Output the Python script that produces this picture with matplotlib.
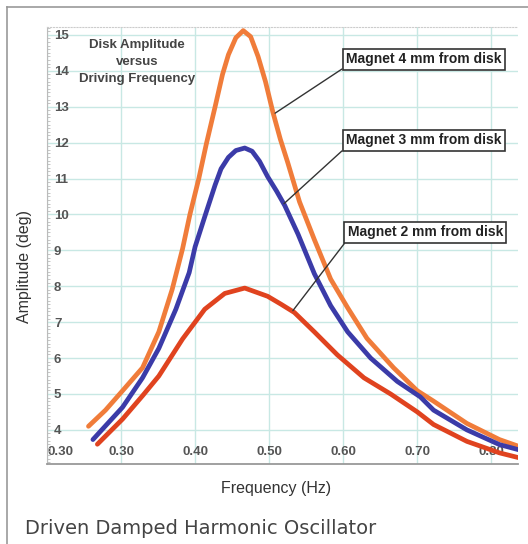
import matplotlib
matplotlib.use('Agg')
import matplotlib.pyplot as plt
from matplotlib.ticker import MultipleLocator, FixedLocator

# series (frequency in Hz, amplitude in deg)
freq_4mm = [0.256, 0.279, 0.302, 0.329, 0.351, 0.369, 0.383, 0.393, 0.405, 0.415, 0.427,
            0.437, 0.445, 0.455, 0.465, 0.475, 0.485, 0.495, 0.505, 0.515, 0.525, 0.541,
            0.561, 0.583, 0.606, 0.632, 0.668, 0.700, 0.722, 0.767, 0.811, 0.840]
amp_4mm = [4.10, 4.55, 5.09, 5.73, 6.73, 7.91, 9.04, 10.00, 11.00, 11.95, 13.00,
           13.90, 14.45, 14.92, 15.12, 14.95, 14.40, 13.70, 12.85, 12.10, 11.45, 10.35,
           9.30, 8.20, 7.40, 6.55, 5.73, 5.09, 4.80, 4.18, 3.73, 3.52]

freq_3mm = [0.262, 0.302, 0.329, 0.351, 0.374, 0.392, 0.400, 0.414, 0.427, 0.435, 0.445,
            0.455, 0.467, 0.477, 0.487, 0.498, 0.510, 0.521, 0.539, 0.561, 0.583, 0.606,
            0.637, 0.673, 0.704, 0.722, 0.767, 0.811, 0.840]
amp_3mm = [3.73, 4.63, 5.45, 6.27, 7.36, 8.38, 9.10, 10.00, 10.82, 11.27, 11.59,
           11.78, 11.85, 11.76, 11.48, 11.05, 10.65, 10.25, 9.45, 8.35, 7.46, 6.73,
           6.00, 5.35, 4.92, 4.55, 4.00, 3.59, 3.43]

freq_2mm = [0.268, 0.302, 0.329, 0.351, 0.383, 0.413, 0.440, 0.467, 0.498, 0.516, 0.534,
            0.561, 0.592, 0.628, 0.664, 0.700, 0.722, 0.767, 0.811, 0.840]
amp_2mm = [3.60, 4.30, 4.95, 5.50, 6.53, 7.36, 7.80, 7.95, 7.72, 7.50, 7.27,
           6.73, 6.09, 5.45, 5.00, 4.50, 4.15, 3.68, 3.36, 3.21]

x_ticks = [0.20, 0.30, 0.40, 0.50, 0.60, 0.70, 0.80]
x_tick_labels = ['0.30', '0.30', '0.40', '0.50', '0.60', '0.70', '0.80']
y_ticks = list(range(4, 16))

labels = ['Magnet 4 mm from disk', 'Magnet 3 mm from disk', 'Magnet 2 mm from disk']
label_tips = [(0.508, 12.82), (0.520, 10.30), (0.532, 7.32)]
label_boxes = [(0.800, 0.926), (0.800, 0.741), (0.803, 0.530)]

colors = {'4mm': '#f07c3a', '3mm': '#3b3ba8', '2mm': '#e0431f'}
grid_color = '#c8e8e4'

plt.rcParams['font.family'] = ['Liberation Sans', 'DejaVu Sans']

fig = plt.figure(figsize=(5.28, 5.44), dpi=100)
ax = fig.add_axes([47/528, 80/544, 471/528, 437/544])

ax.plot(freq_4mm, amp_4mm, color=colors['4mm'], lw=3.4, solid_capstyle='round',
        solid_joinstyle='round', zorder=3)
ax.plot(freq_3mm, amp_3mm, color=colors['3mm'], lw=3.4, solid_capstyle='round',
        solid_joinstyle='round', zorder=3)
ax.plot(freq_2mm, amp_2mm, color=colors['2mm'], lw=3.4, solid_capstyle='round',
        solid_joinstyle='round', zorder=3)

ax.set_xlim(0.2, 0.836)
ax.set_ylim(3.05, 15.22)
ax.set_axisbelow(True)

ax.xaxis.set_major_locator(FixedLocator(x_ticks))
ax.set_xticklabels(x_tick_labels)
ax.yaxis.set_major_locator(FixedLocator(y_ticks))
ax.yaxis.set_minor_locator(MultipleLocator(0.1))
ax.grid(True, which='major', color=grid_color, lw=1.0)

# tick labels sit inside the plot area
ax.tick_params(axis='x', length=0, pad=-4, labelsize=9.5, labelcolor='#555')
ax.tick_params(axis='y', which='major', length=0, pad=-5, labelsize=9.5, labelcolor='#555')
ax.tick_params(axis='y', which='minor', length=2.5, direction='in', color='#bbb', width=0.6)
for t in ax.get_xticklabels():
    t.set_verticalalignment('bottom')
    t.set_fontweight('bold')
ax.get_xticklabels()[0].set_horizontalalignment('left')
for t in ax.get_yticklabels():
    t.set_horizontalalignment('left')
    t.set_fontweight('bold')

ax.spines['right'].set_visible(False)
ax.spines['top'].set_color('#ccc')
ax.spines['top'].set_linestyle(':')
ax.spines['left'].set_color('#bbb')
ax.spines['bottom'].set_color('#999')
ax.spines['bottom'].set_linewidth(1.3)

ax.text(0.191, 0.920, 'Disk Amplitude\nversus\nDriving Frequency', transform=ax.transAxes,
        ha='center', va='center', fontsize=9.5, fontweight='bold', color='#444',
        linespacing=1.55)

for text, tip, box in zip(labels, label_tips, label_boxes):
    ax.annotate(text, xy=tip, xycoords='data', xytext=box, textcoords='axes fraction',
                ha='center', va='center', fontsize=10, fontweight='bold', color='#222',
                bbox=dict(boxstyle='square,pad=0.25', fc='white', ec='#333', lw=1.2),
                arrowprops=dict(arrowstyle='-', color='#333', lw=1.0, relpos=(0, 0),
                                shrinkA=0, shrinkB=0),
                zorder=4)

fig.text(25/528, 1 - 267/544, 'Amplitude (deg)', rotation=90, ha='center', va='center',
         fontsize=11.5, color='#333')
fig.text(276/528, 1 - 488/544, 'Frequency (Hz)', ha='center', va='center',
         fontsize=11.5, color='#333')
fig.text(25/528, 1 - 528/544, 'Driven Damped Harmonic Oscillator', ha='left', va='center',
         fontsize=14, color='#444', family='DejaVu Sans')

# card border
fig.add_artist(plt.Line2D([7/528, 1], [1 - 7/544, 1 - 7/544], color='#999', lw=1.2))
fig.add_artist(plt.Line2D([7/528, 7/528], [0, 1 - 7/544], color='#999', lw=1.2))

fig.savefig('out.png', dpi=100)
